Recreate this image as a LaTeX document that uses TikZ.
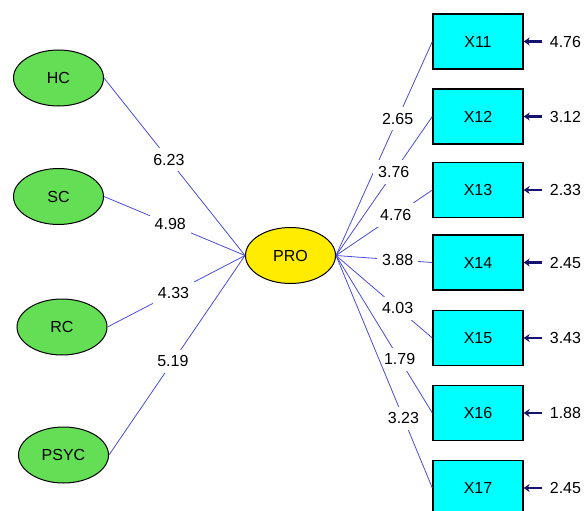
\documentclass[tikz,border=0pt]{standalone}
\usepackage{fontspec}
\setmainfont{Liberation Sans}
\usetikzlibrary{shapes.geometric,arrows.meta}
\definecolor{latgreen}{RGB}{100,222,85}
\definecolor{proyellow}{RGB}{255,236,0}
\definecolor{boxcyan}{RGB}{0,255,255}
\definecolor{pathblue}{RGB}{75,75,220}
\definecolor{errnavy}{RGB}{20,20,110}
\begin{document}
\begin{tikzpicture}[x=1pt,y=-1pt,
  lbl/.style={font=\fontsize{16}{18}\selectfont},
  latent/.style={ellipse, draw=black, line width=1pt, fill=latgreen, minimum width=90pt, minimum height=56pt, inner sep=0pt, lbl},
  central/.style={latent, fill=proyellow},
  obs/.style={rectangle, draw=black, line width=1.3pt, fill=boxcyan, minimum width=90pt, minimum height=55pt, inner sep=0pt, lbl},
  conn/.style={draw=pathblue, line width=0.8pt},
  coef/.style={fill=white, inner xsep=5pt, inner ysep=6pt, lbl},
  err/.style={draw=errnavy, line width=2.6pt, {Stealth[length=6pt,width=8pt]}-},
  errlab/.style={anchor=west, inner sep=2pt, lbl}]
\clip (0,0) rectangle (587,511);
\fill[white] (0,0) rectangle (587,511);

\node[latent] (HC) at (58.5,78) {HC};
\node[latent] (SC) at (58.5,196.5) {SC};
\node[latent] (RC) at (62,327) {RC};
\node[latent] (PSYC) at (63.5,455) {PSYC};
\node[central] (PRO) at (290.5,255.5) {PRO};

\node[obs] (X11) at (478,41.5) {X11};
\node[obs] (X12) at (478,116.5) {X12};
\node[obs] (X13) at (478,190) {X13};
\node[obs] (X14) at (478,262.5) {X14};
\node[obs] (X15) at (478,338) {X15};
\node[obs] (X16) at (478,413) {X16};
\node[obs] (X17) at (478,488) {X17};

\draw[conn] (HC.east) -- node[coef, pos=0.46] {6.23} (PRO.west);
\draw[conn] (SC.east) -- node[coef, pos=0.47] {4.98} (PRO.west);
\draw[conn] (RC.east) -- node[coef, pos=0.48] {4.33} (PRO.west);
\draw[conn] (PSYC.east) -- node[coef, pos=0.47] {5.19} (PRO.west);

\draw[conn] (PRO.east) -- node[coef, pos=0.64] {2.65} (X11.west);
\draw[conn] (PRO.east) -- node[coef, pos=0.6] {3.76} (X12.west);
\draw[conn] (PRO.east) -- node[coef, pos=0.62] {4.76} (X13.west);
\draw[conn] (PRO.east) -- node[coef, pos=0.64] {3.88} (X14.west);
\draw[conn] (PRO.east) -- node[coef, pos=0.64] {4.03} (X15.west);
\draw[conn] (PRO.east) -- node[coef, pos=0.66] {1.79} (X16.west);
\draw[conn] (PRO.east) -- node[coef, pos=0.7] {3.23} (X17.west);

\foreach \b/\v in {X11/4.76, X12/3.12, X13/2.33, X14/2.45, X15/3.43, X16/1.88, X17/2.45}{
  \coordinate (e\b) at ([xshift=18pt]\b.east);
  \draw[err] (\b.east) -- (e\b);
  \node[errlab] (l\b) at ([xshift=6pt]e\b) {\v};
}
\end{tikzpicture}
\end{document}
